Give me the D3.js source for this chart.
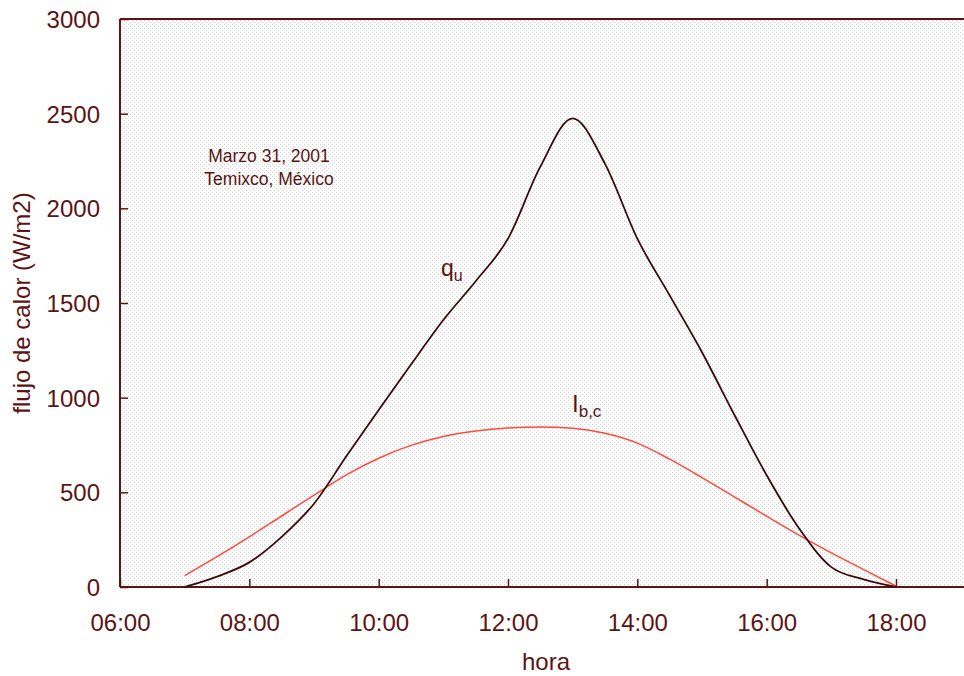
<!DOCTYPE html>
<html>
<head>
<meta charset="utf-8">
<script src="https://cdn.jsdelivr.net/npm/d3@7"></script>
<style>
  body { margin: 0; background: #fff; }
  svg { display: block; font-family: "Liberation Sans", Arial, sans-serif; }
</style>
</head>
<body>
<svg id="chart" width="964" height="676"></svg>
<script>
// hours (decimal) and heat flux values
var horas = [7, 7.5, 8, 8.5, 9, 9.5, 10, 10.5, 11, 11.5, 12, 12.5, 13, 13.5, 14, 14.5, 15, 15.5, 16, 16.5, 17, 17.5, 18];
var qu    = [0, 55, 130, 265, 440, 690, 935, 1175, 1410, 1615, 1840, 2220, 2475, 2235, 1840, 1540, 1240, 910, 590, 310, 105, 40, 0];
var ibc   = [60, 160, 265, 375, 485, 592, 680, 748, 795, 824, 840, 845, 838, 812, 760, 675, 578, 476, 374, 274, 180, 92, 5];

var xTicks = [6, 8, 10, 12, 14, 16, 18];
var yTicks = [0, 500, 1000, 1500, 2000, 2500, 3000];

var color = "#5c1414";
var svg = d3.select("#chart");
var mLeft = 120, mTop = 19, mBottom = 587, mRight = 964;

var x = d3.scaleLinear().domain([6, 18]).range([mLeft, 896]);
var y = d3.scaleLinear().domain([0, 3000]).range([mBottom, mTop]);

// dotted background
var defs = svg.append("defs");
var pat = defs.append("pattern").attr("id", "dots")
  .attr("width", 4).attr("height", 4).attr("patternUnits", "userSpaceOnUse");
pat.append("rect").attr("width", 4).attr("height", 4).attr("fill", "#fff");
pat.append("rect").attr("x", 0).attr("y", 0).attr("width", 1).attr("height", 1).attr("fill", "#d2d2d2");
pat.append("rect").attr("x", 2).attr("y", 2).attr("width", 1).attr("height", 1).attr("fill", "#d2d2d2");

svg.append("rect")
  .attr("x", mLeft).attr("y", mTop)
  .attr("width", mRight - mLeft).attr("height", mBottom - mTop)
  .attr("fill", "url(#dots)");

// axes
var xAxis = d3.axisBottom(x).tickValues(xTicks).tickSizeInner(-8).tickSizeOuter(0)
  .tickFormat(function(d) { return (d < 10 ? "0" : "") + d + ":00"; });
var gx = svg.append("g").attr("transform", "translate(0," + mBottom + ")").call(xAxis);
gx.attr("font-family", null).attr("font-size", null);
gx.select(".domain").remove();
gx.selectAll("text").attr("dy", 0).attr("y", 44).attr("font-size", 24).attr("fill", color);
gx.selectAll("line").attr("stroke", color).attr("stroke-width", 1.5);

var yAxis = d3.axisLeft(y).tickValues(yTicks).tickSizeInner(-8).tickSizeOuter(0)
  .tickFormat(d3.format("d"));
var gy = svg.append("g").attr("transform", "translate(" + mLeft + ",0)").call(yAxis);
gy.attr("font-family", null).attr("font-size", null);
gy.select(".domain").remove();
gy.selectAll("text").attr("x", -20).attr("dy", "0.35em").attr("font-size", 24).attr("fill", color);
gy.selectAll("line").attr("stroke", color).attr("stroke-width", 1.5);

// frame lines
svg.append("line").attr("x1", mLeft).attr("x2", mRight).attr("y1", mBottom).attr("y2", mBottom)
  .attr("stroke", color).attr("stroke-width", 2);
svg.append("line").attr("x1", mLeft).attr("x2", mRight).attr("y1", mTop).attr("y2", mTop)
  .attr("stroke", color).attr("stroke-width", 2);
svg.append("line").attr("x1", mLeft).attr("x2", mLeft).attr("y1", mTop).attr("y2", mBottom)
  .attr("stroke", color).attr("stroke-width", 2);

// curves
var line = d3.line().curve(d3.curveMonotoneX)
  .x(function(d) { return x(d[0]); })
  .y(function(d) { return y(d[1]); });

svg.append("path")
  .datum(d3.zip(horas, ibc))
  .attr("d", line).attr("fill", "none")
  .attr("stroke", "#ff4a3d").attr("stroke-width", 1.5);

svg.append("path")
  .datum(d3.zip(horas, qu))
  .attr("d", line).attr("fill", "none")
  .attr("stroke", "#3c0a0a").attr("stroke-width", 1.8);

// labels
var qLab = svg.append("text").attr("x", 441).attr("y", 276).attr("font-size", 23).attr("fill", color);
qLab.append("tspan").text("q");
qLab.append("tspan").attr("font-size", 16).attr("dy", 5).text("u");

var iLab = svg.append("text").attr("x", 572).attr("y", 412).attr("font-size", 24).attr("fill", color);
iLab.append("tspan").text("I");
iLab.append("tspan").attr("font-size", 17).attr("dy", 5).text("b,c");

svg.append("text").attr("x", 269).attr("y", 162).attr("text-anchor", "middle")
  .attr("font-size", 17.5).attr("fill", color).text("Marzo 31, 2001");
svg.append("text").attr("x", 269).attr("y", 185).attr("text-anchor", "middle")
  .attr("font-size", 17.5).attr("fill", color).text("Temixco, México");

svg.append("text").attr("x", 546).attr("y", 670).attr("text-anchor", "middle")
  .attr("font-size", 24).attr("fill", color).text("hora");

svg.append("text")
  .attr("transform", "translate(30," + ((mTop + mBottom) / 2) + ") rotate(-90)")
  .attr("text-anchor", "middle")
  .attr("font-size", 24).attr("fill", color).text("flujo de calor (W/m2)");
</script>
</body>
</html>
